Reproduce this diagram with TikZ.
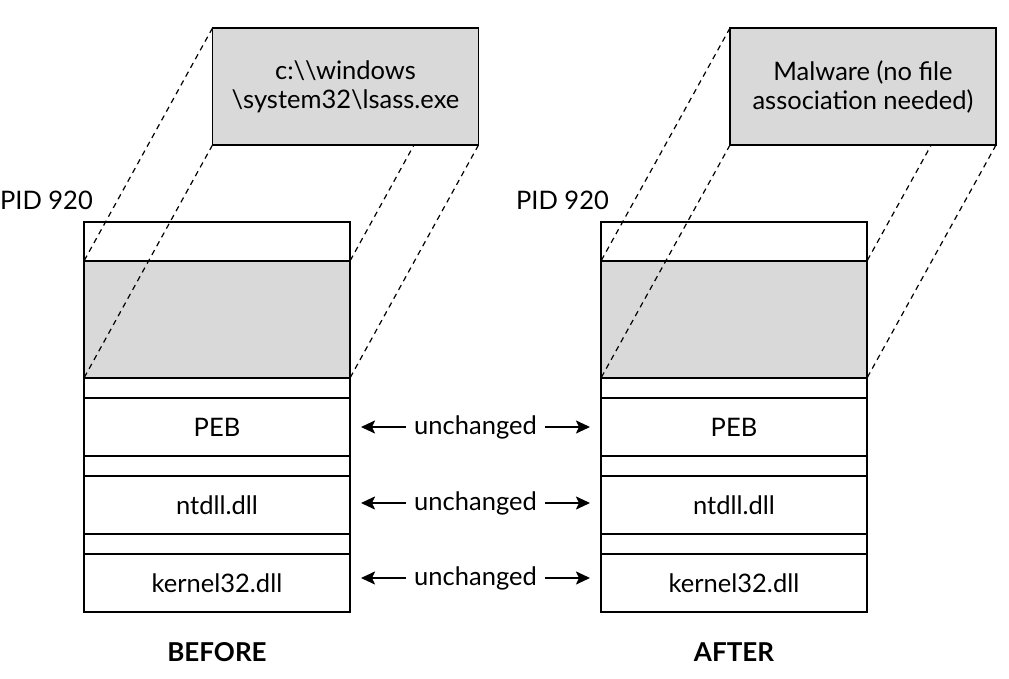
\documentclass[tikz,border=0pt]{standalone}
\usepackage{fontspec}
\setmainfont{Lato}
\usetikzlibrary{arrows.meta}
\pgfdeclarelayer{front}
\pgfsetlayers{main,front}
\definecolor{boxgray}{HTML}{D9D9D9}
\begin{document}
\begin{tikzpicture}[x=1pt,y=-1pt,
  txt/.style={font=\fontsize{25.5}{29}\selectfont},
  seg/.style={draw, line width=1.7pt, minimum width=266pt, inner sep=0pt, outer sep=0pt, txt},
  grayseg/.style={seg, fill=boxgray},
  filebox/.style={draw, line width=1.5pt, fill=boxgray, minimum width=266pt, minimum height=117pt, inner sep=0pt, outer sep=0pt, align=center, txt},
  proj/.style={dash pattern=on 5.5pt off 4.5pt, line width=1.2pt},
  arr/.style={-{Stealth[length=14pt,width=13pt,inset=3pt]}, line width=2pt, shorten >=11pt},
  unch/.style={txt, inner sep=8pt},
  caption/.style={font=\fontsize{26}{29}\selectfont\bfseries}
]
\useasboundingbox (0,0) rectangle (1009,679);

% ---------- BEFORE stack ----------
\node[seg, minimum height=39pt] (topL) at (217,241.5) {};
\node[grayseg, minimum height=117pt] (grayL) at (217,319.5) {};
\node[seg, minimum height=20pt] (s1L) at (217,388) {};
\node[seg, minimum height=58pt] (pebL) at (217,427) {PEB};
\node[seg, minimum height=20pt] (s2L) at (217,466) {};
\node[seg, minimum height=58pt] (ntL) at (217,505) {ntdll.dll};
\node[seg, minimum height=20pt] (s3L) at (217,544) {};
\node[seg, minimum height=58pt] (k32L) at (217,583) {kernel32.dll};

% ---------- AFTER stack ----------
\node[seg, minimum height=39pt] (topR) at (734,241.5) {};
\node[grayseg, minimum height=117pt] (grayR) at (734,319.5) {};
\node[seg, minimum height=20pt] (s1R) at (734,388) {};
\node[seg, minimum height=58pt] (pebR) at (734,427) {PEB};
\node[seg, minimum height=20pt] (s2R) at (734,466) {};
\node[seg, minimum height=58pt] (ntR) at (734,505) {ntdll.dll};
\node[seg, minimum height=20pt] (s3R) at (734,544) {};
\node[seg, minimum height=58pt] (k32R) at (734,583) {kernel32.dll};

% ---------- file boxes (front layer) ----------
\begin{pgfonlayer}{front}
\node[filebox] (fileL) at (345.5,86.5) {c:\textbackslash\textbackslash windows\\\textbackslash system32\textbackslash lsass.exe};
\node[filebox] (fileR) at (863,86.5) {Malware (no file\\association needed)};
\end{pgfonlayer}

% ---------- projection lines ----------
\draw[proj] (fileL.north west) -- (grayL.north west);
\draw[proj] (fileL.south west) -- (grayL.south west);
\draw[proj] (fileL.north east) -- (grayL.north east);
\draw[proj] (fileL.south east) -- (grayL.south east);
\draw[proj] (fileR.north west) -- (grayR.north west);
\draw[proj] (fileR.south west) -- (grayR.south west);
\draw[proj] (fileR.north east) -- (grayR.north east);
\draw[proj] (fileR.south east) -- (grayR.south east);

% ---------- PID labels ----------
\node[txt, anchor=base east, inner sep=0pt] (pidL) at ([xshift=9pt,yshift=12pt]topL.north west) {PID 920};
\node[txt, anchor=base east, inner sep=0pt] (pidR) at ([xshift=8pt,yshift=12pt]topR.north west) {PID 920};

% ---------- unchanged arrows ----------
\node[unch] (u1) at (475.5,427) {unchanged};
\node[unch] (u2) at (475.5,503) {unchanged};
\node[unch] (u3) at (475.5,578) {unchanged};
\draw[arr] (u1.west) -- (pebL.east |- u1.west);
\draw[arr] (u1.east) -- (pebR.west |- u1.east);
\draw[arr] (u2.west) -- (ntL.east |- u2.west);
\draw[arr] (u2.east) -- (ntR.west |- u2.east);
\draw[arr] (u3.west) -- (k32L.east |- u3.west);
\draw[arr] (u3.east) -- (k32R.west |- u3.east);

% ---------- captions ----------
\node[caption] (before) at (217,652) {BEFORE};
\node[caption] (after) at (734,652) {AFTER};
\end{tikzpicture}
\end{document}
